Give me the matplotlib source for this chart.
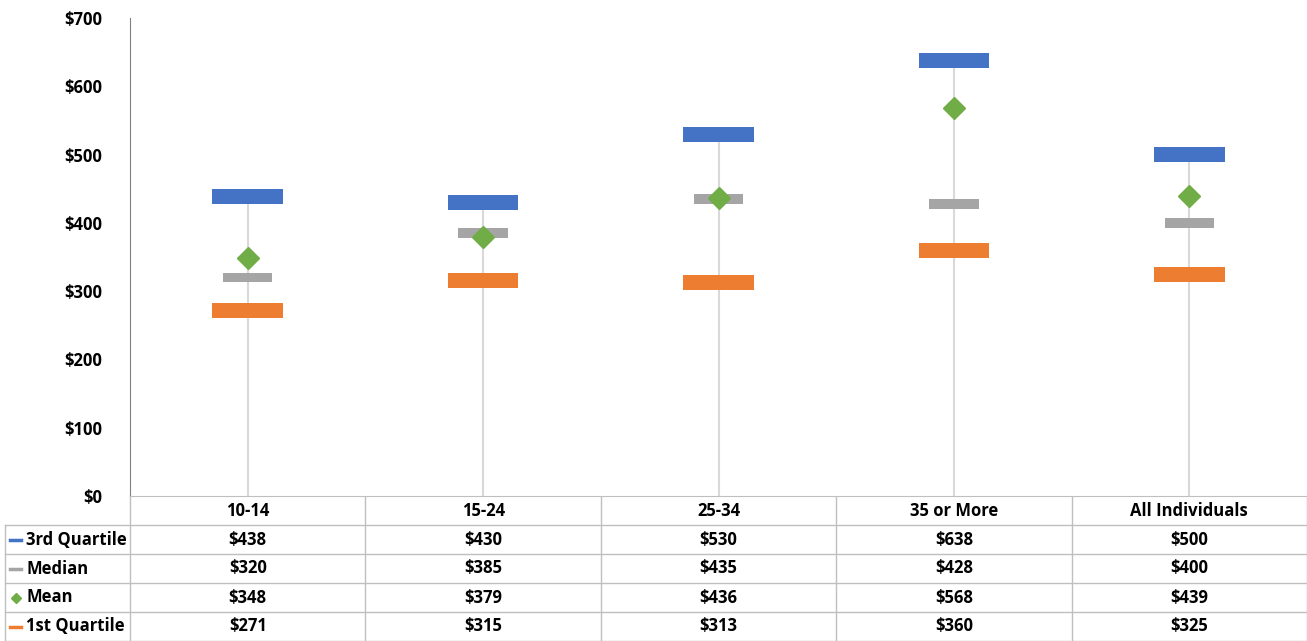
import matplotlib.pyplot as plt
from matplotlib.lines import Line2D

plt.rcParams["font.family"] = ["Open Sans", "DejaVu Sans"]
plt.rcParams["font.weight"] = "bold"

groups = ["10-14", "15-24", "25-34", "35 or More", "All Individuals"]
q3 = [438, 430, 530, 638, 500]
median = [320, 385, 435, 428, 400]
mean = [348, 379, 436, 568, 439]
q1 = [271, 315, 313, 360, 325]
yticks = [0, 100, 200, 300, 400, 500, 600, 700]

blue = "#4472C4"
orange = "#ED7D31"
gray = "#A5A5A5"
green = "#70AD47"
W, H = 1307, 641
fs = 12

fig = plt.figure(figsize=(W / 100, H / 100), dpi=100)
ax = fig.add_axes([130 / W, (H - 496) / H, 1177 / W, 478 / H])
x = list(range(len(groups)))

# high-low lines
ax.vlines(x, 0, q3, color="#D9D9D9", lw=1.5, zorder=1)
# box-like markers
ax.bar(x, 22, bottom=[v - 11 for v in q3], width=0.30, color=blue, zorder=2)
ax.bar(x, 22, bottom=[v - 11 for v in q1], width=0.30, color=orange, zorder=2)
ax.bar(x, 14, bottom=[v - 7 for v in median], width=0.21, color=gray, zorder=2)
ax.plot(x, mean, "D", color=green, ms=11, mec=green, zorder=3, ls="none")

ax.set_xlim(-0.5, len(groups) - 0.5)
ax.set_ylim(0, 700)
ax.set_yticks(yticks)
ax.set_yticklabels(["$" + str(v) for v in yticks], fontsize=fs, fontweight="bold")
ax.tick_params(axis="y", length=0, pad=20)
ax.set_xticks([])
for s in ["top", "right"]:
    ax.spines[s].set_visible(False)
ax.spines["left"].set_color("#808080")
ax.spines["bottom"].set_color("#BFBFBF")

# data table drawn below the plot, in pixel coordinates
tab = fig.add_axes([0, 0, 1, 1], zorder=-1)
tab.set_xlim(0, W)
tab.set_ylim(H, 0)
tab.axis("off")
lc = "#BFBFBF"
cols = [130 + i * 1177 / 5 for i in range(6)]
rows = [496, 525, 554, 583, 612, 641]
for cx in cols:
    tab.add_line(Line2D([cx, cx], [496, 641], color=lc, lw=1))
tab.add_line(Line2D([5, 5], [525, 641], color=lc, lw=1))
for r in rows[1:]:
    tab.add_line(Line2D([5, W], [r, r], color=lc, lw=1))

series = [("3rd Quartile", q3, blue, "_"), ("Median", median, gray, "_"),
          ("Mean", mean, green, "D"), ("1st Quartile", q1, orange, "_")]
for i, g in enumerate(groups):
    tab.text((cols[i] + cols[i + 1]) / 2, 511, g, ha="center", va="center",
             fontsize=fs, fontweight="bold")
for j, (name, vals, col, mk) in enumerate(series):
    yc = (rows[j + 1] + rows[j + 2]) / 2
    if mk == "_":
        tab.add_line(Line2D([10, 21], [yc, yc], color=col, lw=2.5))
    else:
        tab.plot([15.5], [yc], "D", color=col, ms=5)
    tab.text(26, yc, name, ha="left", va="center", fontsize=fs, fontweight="bold")
    for i, v in enumerate(vals):
        tab.text((cols[i] + cols[i + 1]) / 2, yc, "$" + str(v), ha="center",
                 va="center", fontsize=fs, fontweight="bold")

fig.savefig("out.png", dpi=100)
